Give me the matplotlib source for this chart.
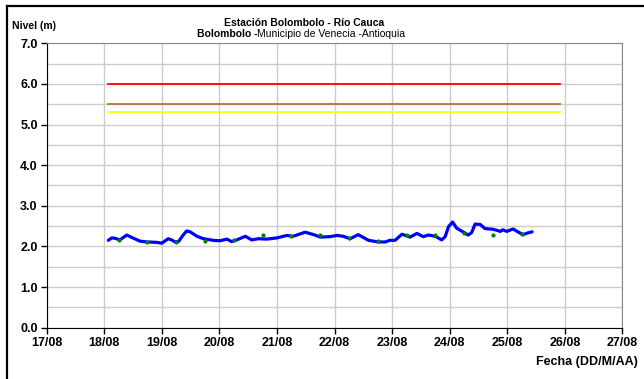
import matplotlib.pyplot as plt
import numpy as np
from matplotlib.lines import Line2D

plt.rcParams['font.family'] = ['Liberation Sans', 'DejaVu Sans']

# nivel del rio (dia del mes de agosto, metros)
dia = [18.07, 18.13, 18.19, 18.27, 18.39, 18.48, 18.62, 18.74, 18.91, 19.00,
       19.11, 19.17, 19.23, 19.29, 19.37, 19.43, 19.49, 19.61, 19.72, 19.89,
       20.01, 20.13, 20.21, 20.30, 20.45, 20.56, 20.68, 20.82, 21.00, 21.17,
       21.28, 21.49, 21.66, 21.75, 21.92, 22.04, 22.15, 22.27, 22.41, 22.59,
       22.76, 22.88, 22.96, 23.05, 23.17, 23.31, 23.43, 23.54, 23.63, 23.75,
       23.86, 23.92, 23.98, 24.05, 24.12, 24.24, 24.32, 24.38, 24.44, 24.53,
       24.61, 24.76, 24.88, 24.92, 24.99, 25.10, 25.17, 25.27, 25.35, 25.43]
nivel = [2.15, 2.21, 2.20, 2.16, 2.28, 2.22, 2.13, 2.11, 2.10, 2.08,
         2.19, 2.16, 2.11, 2.12, 2.28, 2.38, 2.36, 2.25, 2.19, 2.15,
         2.14, 2.18, 2.12, 2.16, 2.25, 2.16, 2.19, 2.18, 2.21, 2.27,
         2.25, 2.35, 2.28, 2.23, 2.24, 2.27, 2.25, 2.19, 2.29, 2.15,
         2.11, 2.11, 2.15, 2.15, 2.30, 2.23, 2.32, 2.24, 2.28, 2.25,
         2.16, 2.24, 2.49, 2.60, 2.45, 2.35, 2.28, 2.34, 2.55, 2.54,
         2.44, 2.42, 2.37, 2.41, 2.37, 2.43, 2.37, 2.29, 2.33, 2.36]

# lecturas de mira
dia_mira = [18.25, 18.75, 19.25, 19.75, 20.25, 20.75, 21.25, 21.75, 22.25,
            22.75, 23.25, 23.75, 24.25, 24.75, 25.25]
nivel_mira = [2.17, 2.11, 2.12, 2.14, 2.16, 2.28, 2.26, 2.28, 2.21,
              2.13, 2.28, 2.28, 2.33, 2.29, 2.30]

# umbrales
umbral_ini, umbral_fin = 18.07, 25.92
umbrales = [6.0, 5.5, 5.3]
colores_umbral = ['#ff0000', '#b8733a', '#ffff00']

ticks_dias = list(range(17, 28))
etiquetas = ['%02d/08' % d for d in ticks_dias]

fig = plt.figure(figsize=(6.44, 3.79), dpi=100)
ax = fig.add_axes([0.0725, 0.1354, 0.8941, 0.7504])

ax.set_xlim(17, 27)
ax.set_ylim(0, 7)
ax.set_xticks(ticks_dias)
ax.set_xticklabels(etiquetas)
ax.set_yticks(np.arange(0, 7.5, 1.0))
ax.set_yticklabels(['%.1f' % v for v in np.arange(0, 7.5, 1.0)])
ax.set_yticks(np.arange(0.5, 7, 1.0), minor=True)
ax.grid(True, which='both', color='#cccccc', lw=1.0)
ax.set_axisbelow(True)
ax.tick_params(axis='both', which='major', direction='out', length=4,
               width=1, labelsize=9, pad=2.5)
ax.tick_params(axis='y', which='minor', length=0)
for lab in ax.get_xticklabels() + ax.get_yticklabels():
    lab.set_fontweight('bold')

for s in ['top', 'right']:
    ax.spines[s].set_color('#888888')
for s in ['left', 'bottom']:
    ax.spines[s].set_color('black')

for u, c in zip(umbrales, colores_umbral):
    ax.plot([umbral_ini, umbral_fin], [u, u], color=c, lw=1.3)

ax.plot(dia, nivel, color='#0000ff', lw=2.3, solid_capstyle='round')
ax.plot(dia_mira, nivel_mira, 'o', color='#008000', ms=3, mec='none')

fig.text(0.472, 0.938, 'Estación Bolombolo - Río Cauca', ha='center',
         va='center', fontsize=7.5, fontweight='bold')
fig.text(0.306, 0.911, 'Bolombolo -', ha='left', va='center',
         fontsize=7.5, fontweight='bold')
fig.text(0.3985, 0.911, 'Municipio de Venecia -Antioquia', ha='left',
         va='center', fontsize=7.5)
fig.text(0.018, 0.932, 'Nivel (m)', ha='left', va='center', fontsize=7.5,
         fontweight='bold')
fig.text(0.991, 0.045, 'Fecha (DD/M/AA)', ha='right', va='center',
         fontsize=9, fontweight='bold')

# marco exterior
fig.add_artist(Line2D([0.0115, 0.0115], [0.0, 0.984], color='black', lw=1.6,
                      transform=fig.transFigure))
fig.add_artist(Line2D([0.0115, 1.0], [0.984, 0.984], color='black', lw=1.6,
                      transform=fig.transFigure))

fig.savefig('out.png', dpi=100)
